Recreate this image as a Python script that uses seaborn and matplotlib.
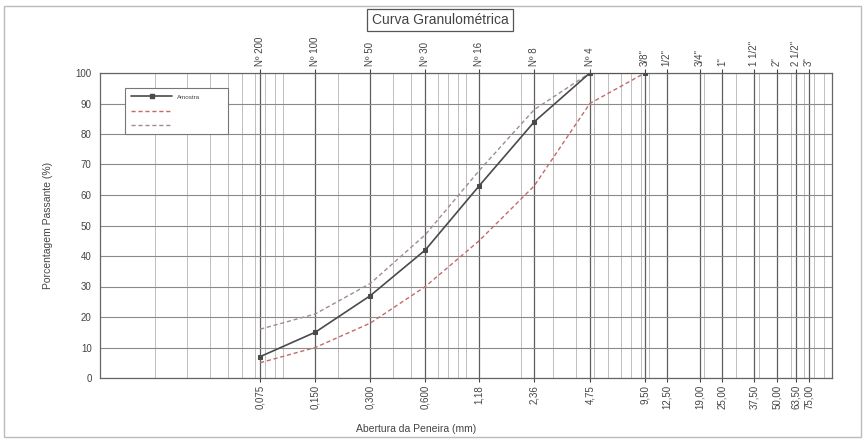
import matplotlib
matplotlib.use("Agg")
import matplotlib.pyplot as plt
import matplotlib.ticker as mticker
from matplotlib.lines import Line2D
from matplotlib.patches import Rectangle
import pandas as pd
import seaborn as sns

# Sieve series (ABNT / ASTM)
sieve_names = ["Nº 200", "Nº 100", "Nº 50", "Nº 30", "Nº 16", "Nº 8", "Nº 4",
               '3/8"', '1/2"', '3/4"', '1"', '1 1/2"', '2"', '2 1/2"', '3"']
sieve_openings = [0.075, 0.150, 0.300, 0.600, 1.18, 2.36, 4.75,
                  9.50, 12.50, 19.00, 25.00, 37.50, 50.00, 63.50, 75.00]
opening_labels = ["0,075", "0,150", "0,300", "0,600", "1,18", "2,36", "4,75",
                  "9,50", "12,50", "19,00", "25,00", "37,50", "50,00", "63,50", "75,00"]

# Percent passing per sieve
curve_openings = [0.075, 0.150, 0.300, 0.600, 1.18, 2.36, 4.75, 9.50]
sample_passing = [7, 15, 27, 42, 63, 84, 100, 100]
lower_passing = [5, 10, 18, 30, 45, 63, 90, 100]
upper_passing = [16, 21, 31, 47, 68, 88, 100, 100]

sample_label = "Amostra"

sns.set_style("white")
plt.rcParams["font.family"] = ["Liberation Sans", "DejaVu Sans"]
text_color = "#444444"

fig = plt.figure(figsize=(8.65, 4.43), dpi=100)
ax = fig.add_axes([100 / 865, 65 / 443, 732 / 865, 305 / 443])

df = pd.DataFrame({
    "abertura": curve_openings,
    "amostra": sample_passing,
    "inferior": lower_passing,
    "superior": upper_passing,
})

sample_color = "#4a4a4a"
lower_color = "#c46a6a"
upper_color = "#a08a96"
dash = (0, (3, 2))

sns.lineplot(data=df, x="abertura", y="inferior", ax=ax, color=lower_color,
             linewidth=1.0, linestyle=dash, zorder=3)
sns.lineplot(data=df, x="abertura", y="superior", ax=ax, color=upper_color,
             linewidth=1.0, linestyle=dash, zorder=3)
sns.lineplot(data=df, x="abertura", y="amostra", ax=ax, color=sample_color,
             linewidth=1.2, marker="s", markersize=3.5,
             markerfacecolor=sample_color, markeredgecolor=sample_color, zorder=4)

ax.set_xscale("log")
ax.set_xlim(0.01, 100)
ax.set_ylim(0, 100)

# bottom axis: sieve openings
ax.xaxis.set_major_locator(mticker.FixedLocator(sieve_openings))
ax.xaxis.set_major_formatter(mticker.FixedFormatter(opening_labels))
ax.xaxis.set_minor_locator(mticker.LogLocator(base=10, subs=range(1, 10), numticks=30))
ax.xaxis.set_minor_formatter(mticker.NullFormatter())
ax.tick_params(axis="x", which="major", rotation=90, labelsize=7,
               colors=text_color, direction="out", length=3, width=0.8, pad=2)
ax.tick_params(axis="x", which="minor", length=0)
ax.set_yticks(range(0, 101, 10))
ax.tick_params(axis="y", labelsize=7, colors=text_color, direction="out",
               length=3, width=0.8, pad=3)

ax.grid(which="major", axis="x", color="#5e5e5e", linewidth=0.9)
ax.grid(which="minor", axis="x", color="#b4b4b4", linewidth=0.6)
ax.grid(which="major", axis="y", color="#8a8a8a", linewidth=0.8)
ax.set_axisbelow(True)

for s in ax.spines.values():
    s.set_color("#666666")
    s.set_linewidth(0.9)

ax.set_xlabel("Abertura da Peneira (mm)", fontsize=7.5, color=text_color)
ax.xaxis.set_label_coords((416 - 100) / 732, -0.15)
ax.set_ylabel("Porcentagem Passante (%)", fontsize=7.5, color=text_color, labelpad=16)

# top axis: sieve designations
top = ax.twiny()
top.set_xscale("log")
top.set_xlim(ax.get_xlim())
top.xaxis.set_major_locator(mticker.FixedLocator(sieve_openings))
top.xaxis.set_major_formatter(mticker.FixedFormatter(sieve_names))
top.xaxis.set_minor_locator(mticker.NullLocator())
top.tick_params(axis="x", rotation=90, labelsize=7, colors=text_color,
                direction="out", length=3, width=0.8, pad=2)
for s in top.spines.values():
    s.set_visible(False)

handles = [
    Line2D([], [], color=sample_color, linewidth=1.2, marker="s", markersize=3),
    Line2D([], [], color=lower_color, linewidth=1.0, linestyle=dash),
    Line2D([], [], color=upper_color, linewidth=1.0, linestyle=dash),
]
leg = ax.legend(handles, [sample_label, "", ""], loc="upper left",
                bbox_to_anchor=(25 / 732, 0.787, 103 / 732, 0.164), mode="expand",
                borderaxespad=0, fontsize=4.5, handlelength=6.5, labelspacing=1.4,
                frameon=True, fancybox=False, edgecolor="#777777",
                facecolor="white", framealpha=1, borderpad=1.0)
leg.get_frame().set_linewidth(0.8)
for t in leg.get_texts():
    t.set_color(text_color)

fig.text(440 / 865, 1 - 20 / 443, "Curva Granulométrica", ha="center", va="center",
         fontsize=10, color=text_color,
         bbox=dict(boxstyle="square,pad=0.3", facecolor="white", edgecolor="#555555",
                   linewidth=0.9))

fig.add_artist(Rectangle((4 / 865, 6 / 443), 857 / 865, 431 / 443,
                         transform=fig.transFigure, fill=False,
                         edgecolor="#bbbbbb", linewidth=1.0))

fig.savefig("out.png", dpi=100, facecolor="white")
